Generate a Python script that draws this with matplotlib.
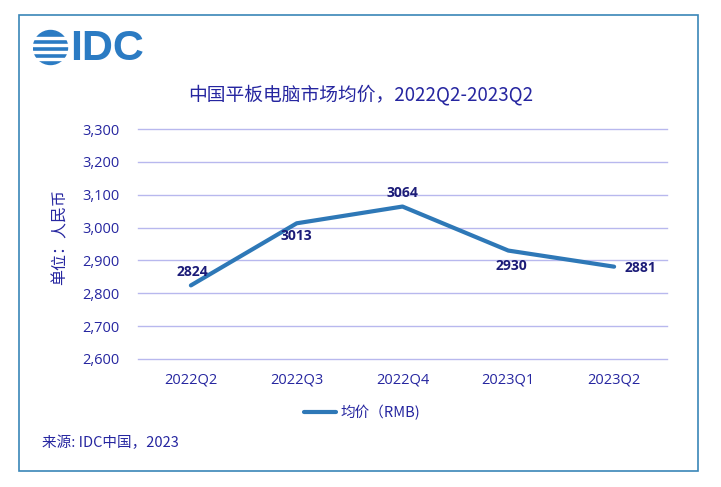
import matplotlib
matplotlib.use("Agg")
import matplotlib.pyplot as plt
from matplotlib.patches import Rectangle, Circle

plt.rcParams['font.family'] = ['Noto Sans CJK SC', 'DejaVu Sans']

categories = ["2022Q2", "2022Q3", "2022Q4", "2023Q1", "2023Q2"]
values = [2824, 3013, 3064, 2930, 2881]
yticks = [2600, 2700, 2800, 2900, 3000, 3100, 3200, 3300]
title = "中国平板电脑市场均价，2022Q2-2023Q2"
ylabel = "单位：人民币"
legend_label = "均价（RMB)"
source = "来源: IDC中国，2023"

W, H = 721, 487
fig = plt.figure(figsize=(W / 100, H / 100), dpi=100)
fig.patch.set_facecolor("white")

navy = "#2626a0"
label_navy = "#1c1c78"
line_color = "#2e78b7"
grid_color = "#b8b8ee"

def fx(px):
    return px / W

def fy(py):
    return 1 - py / H

# Frame
fig.patches.append(Rectangle((fx(19), fy(471)), fx(698) - fx(19), fy(15) - fy(471),
                             transform=fig.transFigure, fill=False,
                             edgecolor="#3a86b8", lw=1.2))

# Main axes
ax = fig.add_axes([fx(138), fy(359), fx(667) - fx(138), fy(129) - fy(359)])
x = list(range(len(categories)))
ax.plot(x, values, color=line_color, lw=3.0, solid_capstyle="round", label=legend_label)
ax.set_xlim(-0.5, len(categories) - 0.5)
ax.set_ylim(2600, 3300)
ax.set_yticks(yticks)
ax.set_yticklabels([f"{v:,}" for v in yticks])
ax.set_xticks(x)
ax.set_xticklabels(categories)
ax.grid(axis="y", color=grid_color, lw=1.0)
for gl in ax.get_ygridlines():
    gl.set_clip_on(False)
ax.set_axisbelow(True)
for s in ax.spines.values():
    s.set_visible(False)
ax.tick_params(axis="both", length=0, labelsize=10.5, labelcolor=navy)
ax.tick_params(axis="y", pad=13)
ax.tick_params(axis="x", pad=10)
for lbl in ax.get_xticklabels() + ax.get_yticklabels():
    lbl.set_family(['Open Sans', 'DejaVu Sans'])

# Data labels (offsets in points)
offsets = [(1, 10), (0, -9), (0, 10), (2, -11), (19, -1)]
for xi, v, (dx, dy) in zip(x, values, offsets):
    ax.annotate(str(v), (xi, v), xytext=(dx, dy), textcoords="offset points",
                ha="center", va="center", fontsize=10, fontweight="bold",
                color=label_navy, family=['Open Sans', 'DejaVu Sans'])

# Title
fig.text(fx(361), fy(95), title, ha="center", va="center", fontsize=13.5, color=navy)

# Y label
fig.text(fx(60), fy(237), ylabel, ha="center", va="center", rotation=90,
         fontsize=11.5, color=navy)

# Legend
leg = ax.legend(loc="center", bbox_to_anchor=((362 - 138) / (667 - 138), -0.233),
                frameon=False, fontsize=10.5, handlelength=2.2, handletextpad=0.3,
                labelcolor=navy)

# Source
fig.text(fx(42), fy(443), source, ha="left", va="center", fontsize=10.5, color=navy)

# Logo
lax = fig.add_axes([fx(33), fy(66), fx(145) - fx(33), fy(29) - fy(66)])
lax.set_xlim(33, 145)
lax.set_ylim(66, 29)
lax.axis("off")
logo_blue = "#2b7bc3"
lax.add_patch(Circle((50.5, 47.5), 17, color=logo_blue))
for yy in [36.5, 43.5, 50.5, 57.5]:
    lax.add_patch(Rectangle((30, yy), 40, 2.6, color="white"))
lax.text(70, 48.5, "IDC", ha="left", va="center", fontsize=31, fontweight="bold",
         color=logo_blue, family=['Liberation Sans', 'DejaVu Sans'])

fig.savefig("out.png", dpi=100)
